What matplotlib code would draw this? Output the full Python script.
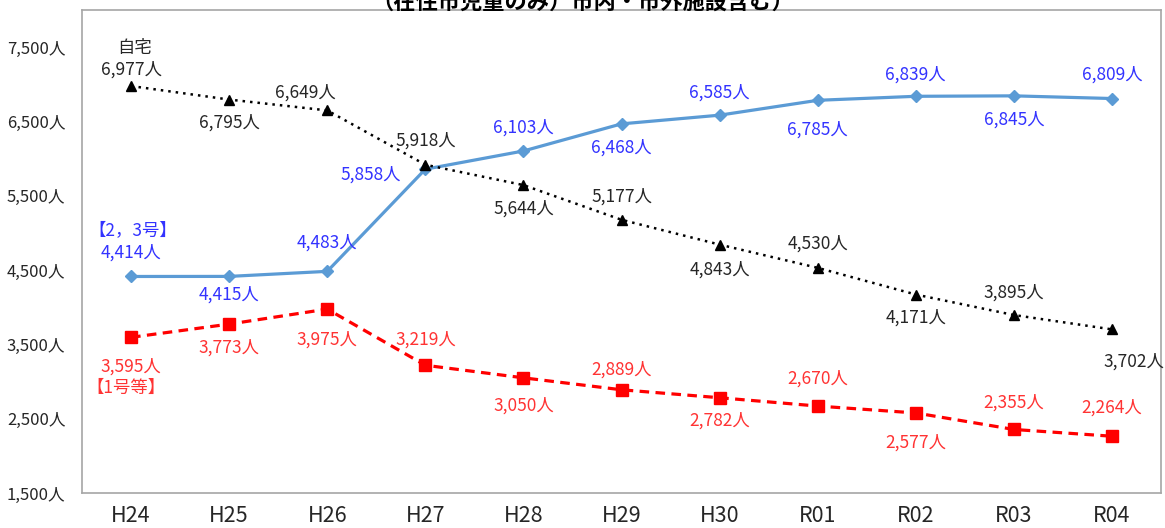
import matplotlib
import matplotlib.pyplot as plt

matplotlib.use("Agg")

plt.rcParams["font.family"] = ["Noto Sans CJK JP", "DejaVu Sans"]

years = ["H24", "H25", "H26", "H27", "H28", "H29", "H30", "R01", "R02", "R03", "R04"]
nigo = [4414, 4415, 4483, 5858, 6103, 6468, 6585, 6785, 6839, 6845, 6809]    # 【2，3号】
jitaku = [6977, 6795, 6649, 5918, 5644, 5177, 4843, 4530, 4171, 3895, 3702]  # 自宅
ichigo = [3595, 3773, 3975, 3219, 3050, 2889, 2782, 2670, 2577, 2355, 2264]  # 【1号等】

yticks = [1500, 2500, 3500, 4500, 5500, 6500, 7500]

# label offsets in pixels (dx, dy)
nigo_off = [(0, 24), (0, -18), (0, 29), (-55, -5), (0, 23), (0, -24),
            (0, 23), (0, -29), (0, 22), (0, -24), (0, 24)]
jitaku_off = [(0, 16), (0, -23), (-22, 18), (0, 24), (0, -24), (0, 23),
              (0, -25), (0, 24), (0, -23), (0, 22), (22, -32)]
ichigo_off = [(0, -29), (0, -24), (0, -31), (0, 26), (0, -28), (0, 20),
              (0, -23), (0, 27), (0, -30), (0, 27), (0, 29)]

BLUE_LINE = "#5b9bd5"
BLUE_TXT = "#3333ff"
RED = "#ff0000"
RED_TXT = "#ff3333"
DARK = "#262626"
FS = 12.5


def add_labels(ax, vals, offs, color):
    for i, (v, (dx, dy)) in enumerate(zip(vals, offs)):
        ax.annotate(f"{v:,}人", (i, v), xytext=(dx, dy), textcoords="offset pixels",
                    ha="center", va="center", fontsize=FS, color=color)


def main():
    fig = plt.figure(figsize=(11.65, 5.28), dpi=100)
    ax = fig.add_axes([0.0704, 0.0663, 0.9262, 0.9147])
    x = list(range(len(years)))

    ax.plot(x, nigo, color=BLUE_LINE, lw=2.3, marker="D", ms=6, zorder=3)
    ax.plot(x, jitaku, color="black", lw=1.8, ls=(0, (1, 2)), marker="^", ms=7, zorder=3)
    ax.plot(x, ichigo, color=RED, lw=2.3, ls=(0, (3, 2)), marker="s", ms=8, zorder=3)

    add_labels(ax, nigo, nigo_off, BLUE_TXT)
    add_labels(ax, jitaku, jitaku_off, DARK)
    add_labels(ax, ichigo, ichigo_off, RED_TXT)

    ax.annotate("【2，3号】", (0, nigo[0]), xytext=(2, 46), textcoords="offset pixels",
                ha="center", va="center", fontsize=FS, color=BLUE_TXT)
    ax.annotate("自宅", (0, jitaku[0]), xytext=(4, 38), textcoords="offset pixels",
                ha="center", va="center", fontsize=FS, color=DARK)
    ax.annotate("【1号等】", (0, ichigo[0]), xytext=(-5, -51), textcoords="offset pixels",
                ha="center", va="center", fontsize=FS, color=RED_TXT)

    ax.set_xlim(-0.5, len(years) - 0.5)
    ax.set_ylim(1500, 8000)
    ax.set_xticks(x)
    ax.set_xticklabels(years, fontsize=15.5, color=DARK)
    ax.set_yticks(yticks)
    ax.set_yticklabels([f"{t:,}人" for t in yticks], fontsize=12, color=DARK)
    ax.tick_params(length=0, pad=12)
    ax.tick_params(axis="x", pad=9)
    for s in ax.spines.values():
        s.set_color("#a6a6a6")
        s.set_linewidth(1.2)

    # title sits partly above the top edge, as in the source image
    fig.text(0.5, 0.995, "（在住市児童のみ）市内・市外施設含む）", ha="center", va="center",
             fontsize=16, fontweight="bold", color="black")

    fig.savefig("out.png")


if __name__ == "__main__":
    main()
